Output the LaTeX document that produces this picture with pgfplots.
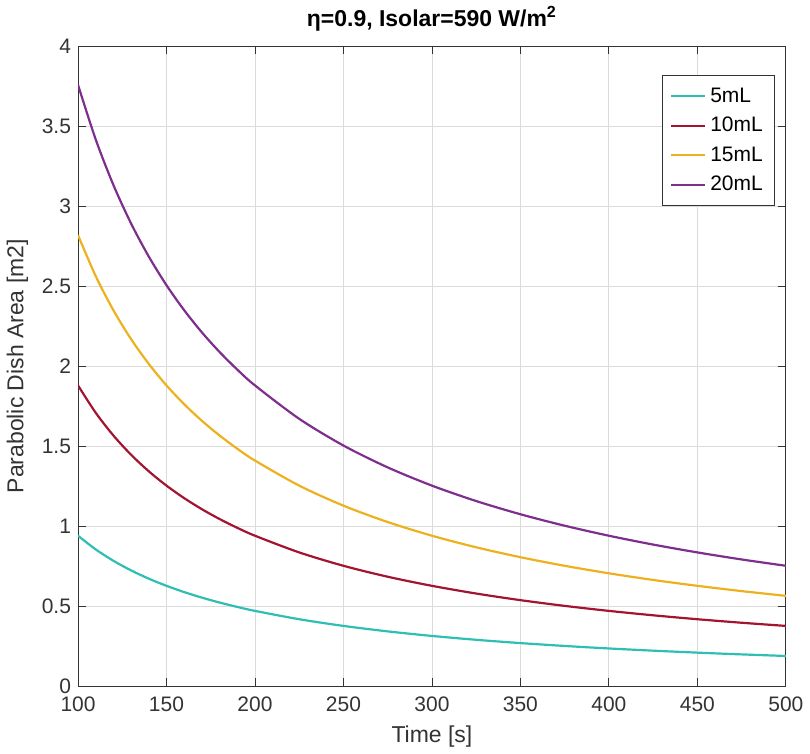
\documentclass[border=0pt]{standalone}
\usepackage{fontspec}
\setmainfont{Liberation Sans}
\usepackage{pgfplots}
\pgfplotsset{compat=1.18}
\definecolor{c5}{RGB}{46,190,180}
\definecolor{c10}{RGB}{162,20,47}
\definecolor{c15}{RGB}{237,177,32}
\definecolor{c20}{RGB}{126,47,142}
\begin{document}
\begin{tikzpicture}
\begin{axis}[
  scale only axis, width=353bp, height=319bp,
  xmin=100, xmax=500, ymin=0, ymax=4,
  xtick={100,150,...,500}, ytick={0,0.5,...,4},
  /pgf/number format/assume math mode=true,
  tick label style={font=\fontsize{10.5}{12}\selectfont, color=black!80},
  xticklabel style={yshift=-2pt},
  label style={font=\fontsize{11.5}{13}\selectfont, color=black!80},
  xlabel={Time [s]}, ylabel={Parabolic Dish Area [m2]},
  title={\bfseries η=0.9, Isolar=590 W/m\textsuperscript{2}},
  title style={font=\fontsize{11.5}{13}\selectfont, yshift=-2pt},
  grid=major, major grid style={black!14, line width=0.4pt},
  tick align=inside, major tick length=4pt,
  axis line style={black!80, line width=0.5pt},
  every tick/.style={black!80},
  legend style={at={(0.985,0.955)}, anchor=north east, font=\fontsize{10.5}{12}\selectfont,
    draw=black!80, line width=0.5pt, row sep=2pt, inner sep=4pt},
  legend image post style={line width=1pt},
  legend cell align=left,
  every axis plot/.append style={line width=1.1pt, mark=none, smooth},
]
\addplot[c5] coordinates {(100,0.94) (110,0.8545) (120,0.7833) (130,0.7231) (140,0.6714) (150,0.6267) (160,0.5875) (170,0.5529) (180,0.5222) (190,0.4947) (200,0.47) (225,0.4178) (250,0.376) (275,0.3418) (300,0.3133) (325,0.2892) (350,0.2686) (375,0.2507) (400,0.235) (425,0.2212) (450,0.2089) (475,0.1979) (500,0.188)};
\addlegendentry{5mL}
\addplot[c10] coordinates {(100,1.88) (110,1.709) (120,1.5667) (130,1.4462) (140,1.3429) (150,1.2533) (160,1.175) (170,1.1059) (180,1.0444) (190,0.9895) (200,0.94) (225,0.8356) (250,0.752) (275,0.6836) (300,0.6267) (325,0.5785) (350,0.5371) (375,0.5013) (400,0.47) (425,0.4424) (450,0.4178) (475,0.3958) (500,0.376)};
\addlegendentry{10mL}
\addplot[c15] coordinates {(100,2.82) (110,2.5636) (120,2.35) (130,2.1692) (140,2.0143) (150,1.88) (160,1.7625) (170,1.6588) (180,1.5667) (190,1.4842) (200,1.41) (225,1.2533) (250,1.128) (275,1.0255) (300,0.94) (325,0.8677) (350,0.8057) (375,0.752) (400,0.705) (425,0.6635) (450,0.6267) (475,0.5937) (500,0.564)};
\addlegendentry{15mL}
\addplot[c20] coordinates {(100,3.76) (110,3.4182) (120,3.1333) (130,2.8923) (140,2.6857) (150,2.5067) (160,2.35) (170,2.2118) (180,2.0889) (190,1.9789) (200,1.88) (225,1.6711) (250,1.504) (275,1.3673) (300,1.2533) (325,1.1569) (350,1.0743) (375,1.0027) (400,0.94) (425,0.8847) (450,0.8356) (475,0.7916) (500,0.752)};
\addlegendentry{20mL}
\end{axis}
\end{tikzpicture}
\end{document}
